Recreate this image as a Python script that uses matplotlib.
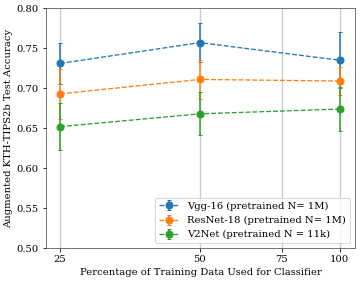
import matplotlib
matplotlib.use('Agg')
import matplotlib.pyplot as plt
from matplotlib.ticker import FixedLocator, FixedFormatter, NullLocator

# Percentage of training data used for the classifier
pct = [25, 50, 100]

# Mean accuracy and error per model
vgg_acc = [0.731, 0.757, 0.735]
vgg_err = [0.026, 0.024, 0.035]
resnet_acc = [0.693, 0.711, 0.709]
resnet_err = [0.031, 0.024, 0.017]
v2net_acc = [0.652, 0.668, 0.674]
v2net_err = [0.029, 0.027, 0.027]

labels = ['Vgg-16 (pretrained N= 1M)', 'ResNet-18 (pretrained N= 1M)',
          'V2Net (pretrained N = 11k)']
xticks = [25, 50, 75, 100]

plt.rcParams['font.family'] = 'DejaVu Serif'
plt.rcParams['font.size'] = 10

# 362x284 px drawn at 72 dpi
fig, ax = plt.subplots(figsize=(362 / 72, 284 / 72), dpi=72)
fig.subplots_adjust(left=0.127, right=0.981, top=0.971, bottom=0.126)

for acc, err, lab, col in [(vgg_acc, vgg_err, labels[0], 'tab:blue'),
                           (resnet_acc, resnet_err, labels[1], 'tab:orange'),
                           (v2net_acc, v2net_err, labels[2], 'tab:green')]:
    ax.errorbar(pct, acc, yerr=err, fmt='o--', color=col, label=lab,
                markersize=7, linewidth=1.3, capsize=2, elinewidth=1.5)

ax.set_xscale('log')
ax.set_xlim(23.3, 108)
ax.set_ylim(0.5, 0.8)
ax.xaxis.set_major_locator(FixedLocator(xticks))
ax.xaxis.set_major_formatter(FixedFormatter([str(t) for t in xticks]))
ax.xaxis.set_minor_locator(NullLocator())
ax.grid(True, axis='x', color='#cccccc', linewidth=1.3)
ax.set_axisbelow(True)
for s in ax.spines.values():
    s.set_color('#555555')

ax.set_xlabel('Percentage of Training Data Used for Classifier')
ax.set_ylabel('Augmented KTH-TIPS2b Test Accuracy')
ax.legend(loc='lower right')

fig.savefig('out.png', dpi=72)
